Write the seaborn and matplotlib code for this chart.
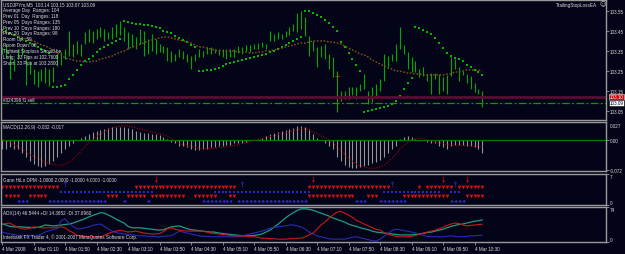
import matplotlib
matplotlib.use("Agg")
import matplotlib.pyplot as plt
import matplotlib.transforms as mtransforms
import numpy as np
import pandas as pd
import seaborn as sns

# ---------------- data (USDJPYm M5, 4 Mar 2008, bar 0 = 00:30) ----------------
time_labels = ["4 Mar 2008", "4 Mar 01:10", "4 Mar 01:50", "4 Mar 02:30", "4 Mar 03:10",
               "4 Mar 03:50", "4 Mar 04:30", "4 Mar 05:10", "4 Mar 05:50", "4 Mar 06:30",
               "4 Mar 07:10", "4 Mar 07:50", "4 Mar 08:30", "4 Mar 09:10", "4 Mar 09:50",
               "4 Mar 10:30"]
label_bars = [0, 8, 16, 24, 32, 40, 48, 56, 64, 72, 80, 88, 96, 104, 112, 120]

highs = [103.37, 103.385, 103.335, 103.31, 103.36, 103.37, 103.32, 103.30, 103.26, 103.25,
         103.26, 103.27, 103.26, 103.27, 103.335, 103.345, 103.36, 103.45, 103.385, 103.40,
         103.385, 103.445, 103.46, 103.45, 103.46, 103.47, 103.46, 103.445, 103.47, 103.485,
         103.50, 103.47, 103.445, 103.435, 103.42, 103.46, 103.45, 103.41, 103.435, 103.41,
         103.385, 103.375, 103.37, 103.35, 103.335, 103.36, 103.35, 103.335, 103.325, 103.335,
         103.36, 103.35, 103.37, 103.37, 103.36, 103.36, 103.36, 103.36, 103.36, 103.36,
         103.375, 103.37, 103.38, 103.38, 103.385, 103.39, 103.395, 103.385, 103.45, 103.435,
         103.445, 103.435, 103.45, 103.47, 103.485, 103.54, 103.55, 103.52, 103.425, 103.40,
         103.37, 103.375, 103.385, 103.335, 103.32, 103.25, 103.15, 103.15, 103.17, 103.17,
         103.17, 103.185, 103.235, 103.15, 103.17, 103.185, 103.21, 103.335, 103.325, 103.335,
         103.385, 103.47, 103.38, 103.345, 103.32, 103.30, 103.26, 103.27, 103.235, 103.24,
         103.24, 103.235, 103.22, 103.23, 103.32, 103.31, 103.27, 103.25, 103.235, 103.225,
         103.19, 103.16, 103.15]
lows = [103.335, 103.32, 103.21, 103.25, 103.31, 103.33, 103.18, 103.235, 103.185, 103.17,
        103.20, 103.19, 103.175, 103.195, 103.275, 103.28, 103.31, 103.325, 103.32, 103.335,
        103.325, 103.385, 103.395, 103.39, 103.41, 103.42, 103.40, 103.41, 103.41, 103.42,
        103.43, 103.40, 103.36, 103.37, 103.36, 103.385, 103.325, 103.335, 103.35, 103.335,
        103.345, 103.34, 103.30, 103.295, 103.30, 103.32, 103.31, 103.295, 103.26, 103.30,
        103.32, 103.32, 103.335, 103.335, 103.34, 103.33, 103.32, 103.31, 103.32, 103.32,
        103.34, 103.335, 103.35, 103.345, 103.36, 103.36, 103.37, 103.36, 103.40, 103.40,
        103.41, 103.41, 103.42, 103.43, 103.45, 103.445, 103.46, 103.425, 103.325, 103.35,
        103.27, 103.32, 103.31, 103.26, 103.22, 103.045, 103.10, 103.11, 103.11, 103.13,
        103.11, 103.15, 103.16, 103.085, 103.095, 103.125, 103.15, 103.20, 103.27, 103.30,
        103.30, 103.36, 103.335, 103.26, 103.245, 103.245, 103.22, 103.225, 103.20, 103.135,
        103.21, 103.135, 103.15, 103.135, 103.225, 103.26, 103.20, 103.23, 103.19, 103.16,
        103.145, 103.135, 103.07]
sar = [103.455, 103.45, 103.44, 103.43, 103.42, 103.41, 103.40, 103.39, 103.38, 103.37,
       103.36, 103.35, 103.34, 103.17, 103.17, 103.175, 103.18, 103.21, 103.23, 103.255,
       103.28, 103.30, 103.31, 103.325, 103.345, 103.36, 103.37, 103.38, 103.39, 103.40,
       103.41, 103.50, 103.495, 103.49, 103.485, 103.485, 103.48, 103.48, 103.475, 103.47,
       103.465, 103.45, 103.445, 103.44, 103.425, 103.415, 103.405, 103.395, 103.38, 103.37,
       103.25, 103.25, 103.255, 103.255, 103.26, 103.265, 103.275, 103.285, 103.29, 103.295,
       103.30, 103.305, 103.31, 103.315, 103.32, 103.325, 103.33, 103.335, 103.345, 103.35,
       103.36, 103.37, 103.38, 103.39, 103.40, 103.41, 103.42, 103.55, 103.548, 103.54,
       103.53, 103.52, 103.505, 103.49, 103.47, 103.45, 103.395, 103.37, 103.34, 103.31,
       103.28, 103.25, 103.045, 103.05, 103.055, 103.06, 103.065, 103.07, 103.075, 103.085,
       103.10, 103.125, 103.16, 103.19, 103.215, 103.47, 103.465, 103.455, 103.445, 103.435,
       103.415, 103.39, 103.365, 103.34, 103.325, 103.315, 103.31, 103.30, 103.28, 103.27,
       103.255, 103.245, 103.23]
ma = [103.445, 103.44, 103.435, 103.43, 103.425, 103.42, 103.41, 103.405, 103.40, 103.39,
      103.38, 103.375, 103.365, 103.355, 103.34, 103.33, 103.315, 103.31, 103.305, 103.30,
      103.30, 103.295, 103.295, 103.30, 103.30, 103.31, 103.315, 103.32, 103.325, 103.335,
      103.345, 103.35, 103.36, 103.37, 103.375, 103.385, 103.39, 103.40, 103.405, 103.41,
      103.415, 103.42, 103.42, 103.415, 103.41, 103.405, 103.40, 103.395, 103.39, 103.38,
      103.37, 103.37, 103.365, 103.36, 103.355, 103.35, 103.35, 103.35, 103.35, 103.35,
      103.345, 103.345, 103.345, 103.34, 103.34, 103.345, 103.345, 103.35, 103.35, 103.355,
      103.36, 103.365, 103.37, 103.375, 103.38, 103.385, 103.39, 103.39, 103.395, 103.40,
      103.40, 103.40, 103.40, 103.395, 103.395, 103.39, 103.385, 103.375, 103.365, 103.355,
      103.345, 103.335, 103.33, 103.32, 103.305, 103.295, 103.285, 103.275, 103.265, 103.26,
      103.25, 103.25, 103.245, 103.24, 103.24, 103.235, 103.235, 103.23, 103.23, 103.23,
      103.23, 103.23, 103.23, 103.235, 103.235, 103.245, 103.245, 103.25, 103.255, 103.255,
      103.255, 103.255, 103.25]
order_line = 103.12      # red order line
bid_line = 103.09        # green dash-dot line
order_bar, order_price = 85, 103.225
price_ticks = [103.05, 103.15, 103.25, 103.35, 103.45, 103.55]

macd_main = [-0.021, -0.021, -0.018, -0.021, -0.023, -0.032, -0.041, -0.051, -0.058, -0.062,
             -0.064, -0.062, -0.058, -0.051, -0.041, -0.032, -0.023, -0.014, -0.007, -0.002,
             0.005, 0.009, 0.014, 0.018, 0.021, 0.023, 0.025, 0.028, 0.030, 0.030,
             0.030, 0.030, 0.028, 0.025, 0.021, 0.018, 0.016, 0.016, 0.014, 0.014,
             0.012, 0.007, 0.002, -0.005, -0.009, -0.014, -0.016, -0.018, -0.023, -0.025,
             -0.025, -0.021, -0.021, -0.018, -0.018, -0.016, -0.014, -0.012, -0.012, -0.009,
             -0.009, -0.007, -0.005, -0.002, 0.0, 0.002, 0.005, 0.009, 0.014, 0.016,
             0.018, 0.021, 0.023, 0.025, 0.028, 0.032, 0.032, 0.030, 0.025, 0.014,
             0.005, -0.002, -0.007, -0.014, -0.023, -0.041, -0.051, -0.060, -0.064, -0.067,
             -0.067, -0.064, -0.062, -0.060, -0.055, -0.053, -0.048, -0.041, -0.032, -0.023,
             -0.014, 0.002, 0.007, 0.009, 0.007, 0.002, -0.002, -0.002, -0.005, -0.007,
             -0.007, -0.014, -0.018, -0.023, -0.014, -0.012, -0.012, -0.012, -0.014, -0.016,
             -0.018, -0.023, -0.032]
macd_signal = [0.0, -0.002, -0.007, -0.012, -0.016, -0.023, -0.028, -0.035, -0.039, -0.044,
               -0.048, -0.053, -0.055, -0.058, -0.060, -0.060, -0.058, -0.053, -0.046, -0.037,
               -0.028, -0.016, -0.007, 0.0, 0.007, 0.014, 0.018, 0.023, 0.028, 0.030,
               0.032, 0.032, 0.032, 0.030, 0.028, 0.025, 0.023, 0.021, 0.018, 0.016,
               0.014, 0.012, 0.007, 0.002, -0.002, -0.007, -0.012, -0.014, -0.016, -0.018,
               -0.021, -0.021, -0.021, -0.021, -0.021, -0.018, -0.018, -0.016, -0.016, -0.014,
               -0.012, -0.009, -0.007, -0.005, -0.002, 0.0, 0.002, 0.005, 0.007, 0.009,
               0.012, 0.014, 0.016, 0.018, 0.021, 0.023, 0.025, 0.025, 0.023, 0.018,
               0.014, 0.009, 0.005, 0.0, -0.007, -0.016, -0.025, -0.035, -0.044, -0.051,
               -0.058, -0.062, -0.064, -0.067, -0.067, -0.067, -0.064, -0.060, -0.053, -0.044,
               -0.035, -0.023, -0.014, -0.007, 0.0, 0.002, 0.002, 0.002, 0.0, -0.002,
               -0.005, -0.007, -0.009, -0.012, -0.012, -0.014, -0.014, -0.014, -0.014, -0.014,
               -0.016, -0.016, -0.017]

gann_row4_red = [(0, 14), (34, 59), (78, 98), (106, 106), (108, 114), (116, 122)]
gann_row3_blue = [(15, 38), (54, 78), (97, 111), (114, 116)]
gann_row2_red = [(1, 4), (7, 11), (27, 29), (32, 36), (38, 46), (49, 54), (58, 59),
                 (78, 89), (93, 95), (102, 113), (118, 122)]
gann_row1_blue = [(4, 6), (12, 26), (31, 31), (37, 37), (51, 58), (60, 77), (90, 92),
                  (96, 102), (114, 117)]
gann_sell_arrows = [39, 79, 112, 118]
gann_buy_arrows = [16, 61, 99, 115]

adx = [38, 36, 33, 32, 32, 32, 31, 31, 30, 31,
       33, 36, 35, 34, 35, 36, 37, 38, 40, 43,
       46, 49, 53, 56, 59, 62, 61, 57, 53, 48,
       44, 40, 33, 30, 30, 30, 29, 28, 27, 26,
       25, 26, 29, 32, 33, 34, 31, 28, 26, 25,
       24, 23, 22, 21, 21, 19, 18, 17, 16, 15,
       14, 13, 13, 13, 14, 15, 17, 21, 25, 31,
       37, 44, 51, 57, 62, 67, 70, 70, 69, 67,
       64, 61, 58, 55, 51, 48, 45, 42, 38, 35,
       33, 30, 28, 26, 23, 21, 20, 19, 18, 17,
       16, 15, 15, 15, 15, 16, 17, 18, 20, 21,
       23, 25, 27, 30, 33, 35, 37, 38, 40, 42,
       44, 45, 46.5444]
minus_di = [38, 39, 40, 35, 31, 28, 27, 29, 32, 31,
            30, 30, 30, 30, 31, 32, 30, 24, 20, 14,
            13, 12, 11, 11, 11, 11, 14, 18, 21, 23,
            25, 23, 21, 22, 23, 21, 19, 18, 17, 17,
            18, 22, 28, 30, 27, 25, 24, 23, 23, 23,
            23, 23, 21, 19, 18, 17, 16, 15, 14, 13,
            13, 13, 12, 11, 11, 10, 8, 8, 7, 7,
            6, 6, 6, 7, 7, 8, 8, 11, 15, 19,
            27, 36, 42, 50, 57, 63, 65, 61, 57, 52,
            46, 42, 38, 34, 30, 27, 25, 20, 17, 14,
            12, 11, 11, 11, 12, 14, 16, 19, 21, 23,
            25, 28, 31, 35, 38, 40, 39, 36, 34, 35,
            36, 37, 37.696]
plus_di = [21, 19, 17, 16, 14, 13, 13, 13, 13, 14,
           17, 21, 24, 26, 28, 45, 49, 40, 33, 28,
           28, 30, 32, 35, 37, 38, 33, 27, 23, 20,
           18, 17, 16, 15, 14, 13, 13, 12, 12, 11,
           11, 12, 13, 13, 18, 23, 21, 19, 17, 15,
           13, 12, 12, 11, 11, 11, 11, 11, 11, 11,
           12, 13, 15, 17, 19, 21, 23, 26, 29, 31,
           32, 33, 34, 36, 36, 34, 32, 27, 21, 17,
           13, 11, 9, 7, 6, 6, 6, 6, 8, 10,
           11, 9, 7, 5, 3, 2, 6, 12, 18, 24,
           27, 26, 24, 23, 21, 19, 16, 14, 12, 11,
           11, 11, 11, 12, 13, 12, 11, 11, 12, 13,
           13, 14, 14.3652]

info_lines = ["USDJPYm,M5  103.14 103.15 103.07 103.09",
              "Average Day  Ranges: 104",
              "Prev 01  Day  Ranges: 118",
              "Prev 05  Days Ranges: 135",
              "Prev 10  Days Ranges: 180",
              "Prev 20  Days Ranges: 98",
              "Room Up:  59",
              "Room Down: 68",
              "Tightest Stoploss Should be",
              "Long:  33 Pips at 102.7600",
              "Short: 33 Pips at 103.2800"]

for arr in (highs, lows, sar, ma, macd_main, macd_signal, adx, minus_di, plus_di):
    assert len(arr) == 123, len(arr)

bars = list(range(len(highs)))

# ---------------- style ----------------
sns.set_theme(style="dark")
plt.rcParams["font.family"] = ["Liberation Sans", "DejaVu Sans"]

BG = "#040418"
EDGE = "#9a9a9a"
TXT = "#dcdcdc"
FS = 3.3
W, H = 625, 255

fig = plt.figure(figsize=(W / 100, H / 100), dpi=100, facecolor=BG)


def ax_at(top, bottom):
    return fig.add_axes([0.5 / W, 1 - bottom / H, 605.5 / W, (bottom - top) / H])


def ptext(x, y, s, **kw):
    opts = dict(fontsize=FS, color=TXT, va="center", ha="left")
    opts.update(kw)
    return fig.text(x / W, 1 - y / H, s, **opts)


ax_main = ax_at(1, 121)
ax_macd = ax_at(123, 172)
ax_gann = ax_at(175, 206)
ax_adx = ax_at(208, 243)
axes = [ax_main, ax_macd, ax_gann, ax_adx]

# ---------------- main price panel ----------------
ax_main.vlines(bars, lows, highs, color="#00a800", lw=0.8)
sns.scatterplot(x=bars, y=sar, ax=ax_main, marker="s", s=1.0, color="#00b800",
                linewidth=0, legend=False)
sns.lineplot(x=bars, y=ma, ax=ax_main, color="#845414", lw=1.0,
             linestyle=(0, (1.2, 1.2)), legend=False)
ax_main.axhline(order_line, color="#5c0c34", lw=2.0)
ax_main.axhline(bid_line, color="#00a000", lw=0.9, linestyle=(0, (6, 2, 1.5, 2)))
sns.scatterplot(x=[order_bar], y=[order_price], ax=ax_main, marker="+", s=6,
                color="#e01010", linewidth=0.8, legend=False)
ax_main.set_ylim(103.005, 103.605)
ax_main.set_yticks(price_ticks)
ax_main.set_yticklabels([f"{p:.2f}" for p in price_ticks])

blend = mtransforms.blended_transform_factory(ax_main.transAxes, ax_main.transData)
ax_main.text(1.006, order_line, "103.10", transform=blend, fontsize=FS, color="white",
             va="center", ha="left",
             bbox=dict(facecolor="#e00000", edgecolor="#ffffff", lw=0.4, pad=0.4))
ax_main.text(1.006, bid_line, "103.09", transform=blend, fontsize=FS, color="black",
             va="center", ha="left",
             bbox=dict(facecolor="#ffffff", edgecolor="#000000", lw=0.4, pad=0.4))

# ---------------- MACD panel ----------------
ax_macd.vlines(bars, 0, macd_main, color="#959595", lw=0.8)
ax_macd.axhline(0, color="#007a00", lw=0.9)
sns.lineplot(x=bars, y=macd_signal, ax=ax_macd, color="#b00000", lw=0.8,
             linestyle=(0, (1, 1.4)), legend=False)
ax_macd.set_ylim(-0.0736, 0.0414)
ax_macd.set_yticks([-0.072, 0.0])
ax_macd.set_yticklabels(["-0.072", "0.00"])
ax_macd.text(1.006, 0.985, "0.027", transform=ax_macd.transAxes, fontsize=FS,
             color=TXT, va="top", ha="left")


# ---------------- Gann HiLo panel ----------------
def seg_points(segs):
    return [i for a, b in segs for i in range(a, b + 1)]


rows = [(gann_row4_red, 4, "#d81010", "v", 7.0),
        (gann_row3_blue, 3, "#2828d8", "s", 3.5),
        (gann_row2_red, 2, "#d81010", "v", 7.0),
        (gann_row1_blue, 1, "#2828d8", "<", 6.0)]
for segs, level, col, mk, size in rows:
    pts = seg_points(segs)
    sns.scatterplot(x=pts, y=[level] * len(pts), ax=ax_gann, marker=mk, s=size,
                    color=col, linewidth=0, legend=False)
sns.scatterplot(x=gann_sell_arrows, y=[5.8] * len(gann_sell_arrows), ax=ax_gann,
                marker=r"$\downarrow$", s=16, color="#e01010", linewidth=0, legend=False)
sns.scatterplot(x=gann_buy_arrows, y=[4.8] * len(gann_buy_arrows), ax=ax_gann,
                marker=r"$\uparrow$", s=16, color="#2a2ae0", linewidth=0, legend=False)
ax_gann.set_ylim(0, 7)
ax_gann.set_yticks([0, 7])
ax_gann.set_yticklabels(["0", "7"])

# ---------------- ADX panel ----------------
sns.lineplot(x=bars, y=adx, ax=ax_adx, color="#1f9c80", lw=0.9, legend=False)
sns.lineplot(x=bars, y=plus_di, ax=ax_adx, color="#2a2ab4", lw=0.8, legend=False)
sns.lineplot(x=bars, y=minus_di, ax=ax_adx, color="#cc1818", lw=0.8, legend=False)
ax_adx.set_ylim(0, 74)
ax_adx.set_yticks([0, 74])
ax_adx.set_yticklabels(["0", "74"])

# ---------------- common axis styling ----------------
for ax in axes:
    ax.set_facecolor(BG)
    ax.grid(False)
    ax.set_xlabel("")
    ax.set_ylabel("")
    ax.set_xlim(-0.4, 153.4)
    for s in ax.spines.values():
        s.set_color(EDGE)
        s.set_linewidth(1.0)
    ax.yaxis.tick_right()
    ax.tick_params(axis="y", direction="out", length=2, width=0.6, color=EDGE,
                   labelsize=FS, labelcolor=TXT, pad=1, left=False, right=True)
    ax.tick_params(axis="x", bottom=False, labelbottom=False, top=False)

for ax in (ax_gann, ax_adx):
    lbls = ax.get_yticklabels()
    lbls[0].set_va("bottom")
    lbls[-1].set_va("top")

ax_adx.set_xticks(label_bars)
ax_adx.set_xticklabels(time_labels, ha="left")
ax_adx.tick_params(axis="x", bottom=True, labelbottom=True, direction="out", length=2,
                   width=0.6, color=EDGE, labelsize=FS, labelcolor=TXT, pad=1)

# ---------------- texts ----------------
for k, line in enumerate(info_lines):
    ptext(3, 5 + 5.8 * k, line)
ptext(3, 100.5, "#024396 f1 sell")
ptext(597, 5, "TrailingStopLossEA", ha="right")
ptext(599, 5, "\u263a", fontsize=4.5, family=["DejaVu Sans"])
ptext(3, 128, "MACD(12,26,9) -0.032 -0.017")
ptext(3, 180, "Gann HiLo DPM -1.0000 2.0000 -1.0000 4.0000 -1.0000")
ptext(3, 213, "ADX(14) 46.5444 +DI 14.3652 -DI 37.6960")
ptext(3, 237, "Interbank FX Trader 4, \u00a9 2001-2007 MetaQuotes Software Corp.")

fig.savefig("out.png", dpi=100, facecolor=BG)
